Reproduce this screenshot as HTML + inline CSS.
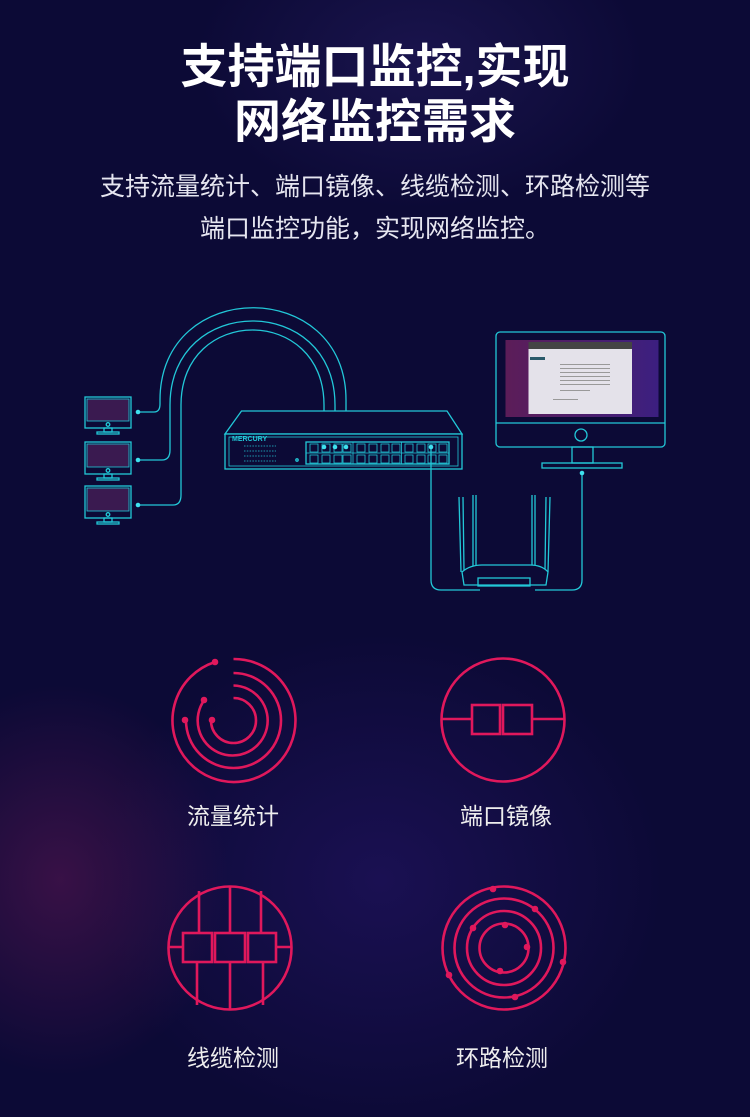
<!DOCTYPE html>
<html><head><meta charset="utf-8"><style>
html,body{margin:0;padding:0}
body{width:750px;height:1117px;overflow:hidden;position:relative;font-family:"Liberation Sans","Noto Sans CJK SC",sans-serif;
background:
radial-gradient(ellipse 240px 280px at 60px 880px, rgba(110,25,90,0.45), rgba(0,0,0,0) 70%),
radial-gradient(ellipse 380px 330px at 380px 880px, rgba(40,22,110,0.5), rgba(0,0,0,0) 75%),
radial-gradient(ellipse 300px 200px at 420px 60px, rgba(40,30,100,0.5), rgba(0,0,0,0) 75%),
#0c0a36;}
.t{position:absolute;left:0;width:750px;text-align:center;color:#fff}
.h{font-size:47px;font-weight:bold;line-height:56px}
.s{font-size:25px;color:#e6e6f0;line-height:42px}
.l{position:absolute;font-size:23px;color:#eee;width:140px;text-align:center}
svg{position:absolute;left:0;top:0}
</style></head><body>
<div class="t h" style="top:39px">支持端口监控,实现</div>
<div class="t h" style="top:94px">网络监控需求</div>
<div class="t s" style="top:166px">支持流量统计、端口镜像、线缆检测、环路检测等</div>
<div class="t s" style="top:208px">端口监控功能，实现网络监控。</div>

<svg width="750" height="1117" viewBox="0 0 750 1117">
<defs><linearGradient id="sc" x1="0" x2="1"><stop offset="0" stop-color="#5c1d58"/><stop offset="1" stop-color="#3c1f80"/></linearGradient></defs>
<g fill="none" stroke="#22c8d8" stroke-width="1.3">
<g><rect x="85" y="397" width="46" height="31" fill="#0c0a36"/><rect x="87" y="399" width="42" height="22" fill="#3a1a50" stroke-width="0.8"/><circle cx="108" cy="424.5" r="1.8"/><rect x="104" y="428" width="8" height="4"/><rect x="97" y="432" width="22" height="2"/></g>
<g><rect x="85" y="442" width="46" height="32" fill="#0c0a36"/><rect x="87" y="444" width="42" height="23" fill="#3a1a50" stroke-width="0.8"/><circle cx="108" cy="470.5" r="1.8"/><rect x="104" y="474" width="8" height="4"/><rect x="97" y="478" width="22" height="2"/></g>
<g><rect x="85" y="486" width="46" height="32" fill="#0c0a36"/><rect x="87" y="488" width="42" height="23" fill="#3a1a50" stroke-width="0.8"/><circle cx="108" cy="514.5" r="1.8"/><rect x="104" y="518" width="8" height="4"/><rect x="97" y="522" width="22" height="2"/></g>
<path d="M138 412 H154 Q160 412 160 404 V400 C160 277 346 277 346 400 V447"/>
<path d="M138 460 H162 Q170 460 170 450 V405 C170 293 335 293 335 405 V447"/>
<path d="M138 505 H173 Q181 505 181 495 V405 C181 305 324 305 324 405 V447"/>
<path d="M241.5 411 H447 L462 434 H225 Z" fill="#0c0a36"/>
<rect x="225" y="434" width="237" height="35" fill="#0c0a36"/>
<rect x="229" y="437" width="229" height="29" stroke-width="0.8"/>
<rect x="306" y="442" width="143" height="22"/>
<path d="M353 442V464M401.5 442V464M306 453H449" stroke-width="0.8"/>
<g stroke-width="0.8">
<path d="M310 444h8v8h-8zM322 444h8v8h-8zM334 444h8v8h-8zM343 444h8v8h-8zM357 444h8v8h-8zM369 444h8v8h-8zM381 444h8v8h-8zM392 444h8v8h-8zM405 444h8v8h-8zM417 444h8v8h-8zM428 444h8v8h-8zM439 444h8v8h-8z"/>
<path d="M310 455h8v8h-8zM322 455h8v8h-8zM334 455h8v8h-8zM343 455h8v8h-8zM357 455h8v8h-8zM369 455h8v8h-8zM381 455h8v8h-8zM392 455h8v8h-8zM405 455h8v8h-8zM417 455h8v8h-8zM428 455h8v8h-8zM439 455h8v8h-8z"/>
<path d="M244 446H276M244 451H276M244 456H276M244 461H276" stroke-dasharray="1.5 1.3"/>
</g>
<circle cx="297" cy="460" r="1.2"/>
<path d="M431 447 V580 Q431 590 441 590 H480"/>
<path d="M582 473 V580 Q582 590 572 590 H535"/>
<path d="M459 497 L461 572 M463 497 L464 570 M473 495 L473 570 M476 495 L476 568 M535 495 L535 570 M532 495 L532 568 M550 497 L548 572 M546 497 L545 570"/>
<path d="M462 572 Q470 565 482 565 H530 Q542 565 548 572 L546 585 H464 Z" fill="#0c0a36"/>
<rect x="478" y="578" width="52" height="8"/>
<rect x="496" y="332" width="169" height="115" rx="4" fill="#0c0a36"/>
<rect x="505.5" y="340" width="153" height="77" fill="url(#sc)" stroke="none"/>
<path d="M496 423 H665"/>
<circle cx="581" cy="435" r="6"/>
<rect x="572" y="447" width="21" height="16"/>
<rect x="542" y="463" width="80" height="5"/>
</g>
<rect x="528.5" y="342" width="103.5" height="72" fill="#e4e2ea"/>
<rect x="528.5" y="342" width="103.5" height="7" fill="#444"/>
<rect x="530" y="357" width="15" height="3" fill="#2a5a6a"/>
<g fill="#999"><rect x="560" y="364" width="50" height="1"/><rect x="560" y="368" width="50" height="1"/><rect x="560" y="372" width="50" height="1"/><rect x="560" y="376" width="50" height="1"/><rect x="560" y="380" width="50" height="1"/><rect x="560" y="384" width="50" height="1"/><rect x="560" y="390" width="30" height="1"/><rect x="553" y="399" width="25" height="1"/></g>
<g fill="#3fe0ee"><circle cx="138" cy="412" r="2.3"/><circle cx="138" cy="460" r="2.3"/><circle cx="138" cy="505" r="2.3"/><circle cx="324" cy="447" r="2.3"/><circle cx="335" cy="447" r="2.3"/><circle cx="346" cy="447" r="2.3"/><circle cx="431" cy="447" r="2.3"/><circle cx="582" cy="473" r="2.3"/></g>
<text x="232" y="441" font-size="7" fill="#22c8d8" font-family="Liberation Sans" font-weight="bold">MERCURY</text>

<g fill="none" stroke="#e0185c" stroke-width="2.6">
<path d="M233.5 659 A61.5 61.5 0 1 1 215 662"/>
<path d="M233.5 673 A47.5 47.5 0 1 1 186 720.5"/>
<path d="M233.5 685.5 A35 35 0 1 1 204.3 700"/>
<path d="M233.5 698 A22.5 22.5 0 1 1 211 720.5"/>
<circle cx="503" cy="720" r="61.5"/>
<path d="M441.5 719H472M532 719H564.5"/>
<rect x="472" y="705" width="28" height="29"/><rect x="503" y="705" width="29" height="29"/>
<circle cx="230" cy="948" r="61.5"/>
<path d="M168.5 947H183M276 947H291.5"/>
<rect x="183" y="933" width="29" height="29"/><rect x="215" y="933" width="30" height="29"/><rect x="248" y="933" width="28" height="29"/>
<path d="M199 891V933M230 886.5V933M261 891V933M197 962V1005M230 962V1009.5M263 962V1005"/>
<circle cx="504" cy="948" r="61.5"/>
<circle cx="504" cy="948" r="49.5"/>
<circle cx="504" cy="948" r="37"/>
<circle cx="504" cy="948" r="24.5"/>
</g>
<g fill="#e0185c">
<circle cx="215" cy="662" r="3.3"/><circle cx="185" cy="720" r="3.3"/><circle cx="204" cy="700" r="3.3"/><circle cx="212" cy="720" r="3.3"/>
<circle cx="493" cy="889" r="3.3"/><circle cx="535" cy="909" r="3.3"/><circle cx="473" cy="928" r="3.3"/><circle cx="505" cy="925" r="3.3"/><circle cx="527" cy="947" r="3.3"/><circle cx="500" cy="971" r="3.3"/><circle cx="563" cy="962" r="3.3"/><circle cx="449" cy="975" r="3.3"/><circle cx="515" cy="997" r="3.3"/>
</g>
</svg>
<div class="l" style="left:163px;top:797px">流量统计</div>
<div class="l" style="left:436px;top:797px">端口镜像</div>
<div class="l" style="left:163px;top:1039px">线缆检测</div>
<div class="l" style="left:432px;top:1039px">环路检测</div>
</body></html>
